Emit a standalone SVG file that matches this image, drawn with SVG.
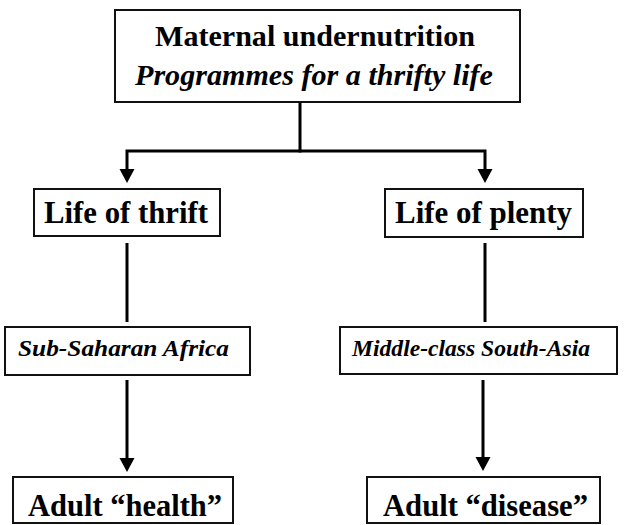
<svg xmlns="http://www.w3.org/2000/svg" width="624" height="525" viewBox="0 0 624 525">
  <style>
    .box { fill: #ffffff; stroke: #111111; stroke-width: 2; }
    .conn { fill: none; stroke: #000000; stroke-width: 3; stroke-linejoin: miter; }
    .t { font-family: 'Liberation Serif', 'DejaVu Serif', serif; font-weight: bold; fill: #000000; }
    .big { font-size: 30.5px; }
    .it { font-style: italic; }
    .mid { font-size: 24px; }
  </style>
  <defs>
    <marker id="arrow" markerUnits="userSpaceOnUse" markerWidth="16" markerHeight="16" refX="4" refY="7.5" orient="auto" viewBox="0 0 16 16">
      <path d="M0,0 L14,7.5 L0,15 Z" fill="#000000"/>
    </marker>
  </defs>
  <rect width="624" height="525" fill="#ffffff"/>

  <g id="connectors">
    <path class="conn" d="M300,102 V151"/>
    <path class="conn" d="M301.5,151 H127 V173" marker-end="url(#arrow)"/>
    <path class="conn" d="M298.5,151 H485 V173" marker-end="url(#arrow)"/>
    <path class="conn" d="M127,243 V322"/>
    <path class="conn" d="M485,243 V322"/>
    <path class="conn" d="M127,380 V462" marker-end="url(#arrow)"/>
    <path class="conn" d="M483,380 V461" marker-end="url(#arrow)"/>
  </g>

  <g id="maternal">
    <rect class="box" x="115" y="10" width="405" height="92"/>
    <text class="t" font-family="Liberation Serif, DejaVu Serif, serif" x="155" y="46" font-size="30" textLength="320" lengthAdjust="spacingAndGlyphs">Maternal undernutrition</text>
    <text class="t it" font-family="Liberation Serif, DejaVu Serif, serif" x="135" y="85" font-size="30" textLength="358" lengthAdjust="spacingAndGlyphs">Programmes for a thrifty life</text>
  </g>

  <g id="thrift">
    <rect class="box" x="34" y="189" width="186" height="47"/>
    <text class="t big" font-family="Liberation Serif, DejaVu Serif, serif" x="44" y="223" textLength="164" lengthAdjust="spacingAndGlyphs">Life of thrift</text>
  </g>

  <g id="plenty">
    <rect class="box" x="385" y="189" width="198" height="48"/>
    <text class="t big" font-family="Liberation Serif, DejaVu Serif, serif" x="395" y="223" textLength="177" lengthAdjust="spacingAndGlyphs">Life of plenty</text>
  </g>

  <g id="subsaharan">
    <rect class="box" x="5" y="327" width="245" height="48"/>
    <text class="t it mid" font-family="Liberation Serif, DejaVu Serif, serif" x="18" y="356" textLength="211" lengthAdjust="spacingAndGlyphs">Sub-Saharan Africa</text>
  </g>

  <g id="southasia">
    <rect class="box" x="340" y="327" width="277" height="47"/>
    <text class="t it mid" font-family="Liberation Serif, DejaVu Serif, serif" x="352" y="356" textLength="238" lengthAdjust="spacingAndGlyphs">Middle-class South-Asia</text>
  </g>

  <g id="health">
    <rect class="box" x="13" y="477" width="220" height="46"/>
    <text class="t big" font-family="Liberation Serif, DejaVu Serif, serif" x="28" y="516" textLength="194" lengthAdjust="spacingAndGlyphs">Adult “health”</text>
  </g>

  <g id="disease">
    <rect class="box" x="367" y="477" width="233" height="46"/>
    <text class="t big" font-family="Liberation Serif, DejaVu Serif, serif" x="383" y="516" textLength="205" lengthAdjust="spacingAndGlyphs">Adult “disease”</text>
  </g>
</svg>
